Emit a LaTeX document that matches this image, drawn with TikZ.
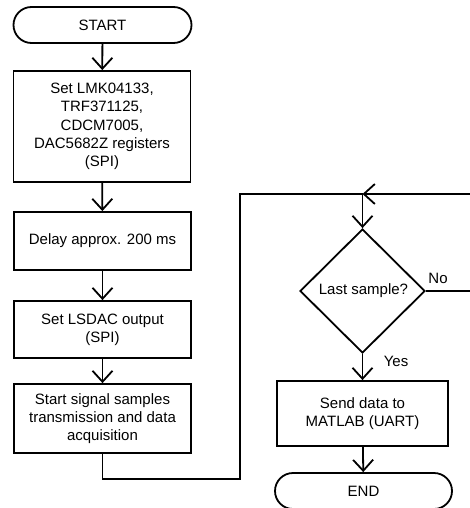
\documentclass[tikz,border=0pt]{standalone}
\usepackage{fontspec}
\setmainfont{Liberation Sans}
\usetikzlibrary{shapes.geometric,shapes.misc,arrows.meta}
\begin{document}
\begin{tikzpicture}[x=1pt,y=-1pt,
  every node/.style={font=\fontsize{15}{18.3}\selectfont},
  proc/.style={draw,line width=1.8pt,rectangle,inner sep=0pt,align=center,minimum width=177pt},
  term/.style={draw,line width=1.8pt,rounded rectangle,inner sep=0pt,minimum width=178pt,minimum height=36pt},
  decis/.style={draw,line width=1.8pt,diamond,inner sep=0pt,minimum width=125pt,minimum height=124pt},
  conn/.style={line width=1.8pt},
  arr/.style={conn,-{Straight Barb[length=11pt,width=20pt,line width=1.8pt]}},
  lbl/.style={inner sep=0pt}]
\useasboundingbox (0,0) rectangle (470,508);
\node[term] (start) at (102.5,25) {START};
\node[proc,minimum height=111pt] (b1) at (102,126.5) {Set LMK04133,\\TRF371125,\\CDCM7005,\\DAC5682Z registers\\(SPI)};
\node[proc,minimum height=58pt] (b2) at (102.5,241) {Delay approx. 200 ms};
\node[proc,minimum height=57pt] (b3) at (102.5,329.5) {Set LSDAC output\\(SPI)};
\node[proc,minimum height=69pt] (b4) at (102.5,418.5) {Start signal samples\\transmission and data\\acquisition};
\node[decis] (dec) at (362.5,291) {\hspace*{2pt}Last sample?};
\node[proc,minimum width=171pt,minimum height=65pt] (b5) at (362.5,413.5) {Send data to\\MATLAB (UART)};
\node[term,minimum width=177pt] (end) at (363.5,491) {END};
\coordinate (j) at (362.5,194);
\coordinate (r1) at (471.5,291);
\coordinate (r2) at (471.5,194);
\coordinate (d1) at (102.5,479);
\coordinate (d2) at (240,479);
\coordinate (d3) at (240,194);
\draw[arr] (start) -- (b1);
\draw[arr] (b1) -- (b2);
\draw[arr] (b2) -- (b3);
\draw[arr] (b3) -- (b4);
\draw[conn] (b4.south) -- (d1) -- (d2) -- (d3) -- (j);
\draw[arr] (dec.east) -- (r1) -- (r2) -- (j);
\draw[arr] (j) -- (dec.north);
\draw[arr] (dec.south) -- (b5.north);
\draw[arr] (b5) -- (end);
\node[lbl] (no) at (438,278) {No};
\node[lbl] (yes) at (396,361) {Yes};
\end{tikzpicture}
\end{document}
